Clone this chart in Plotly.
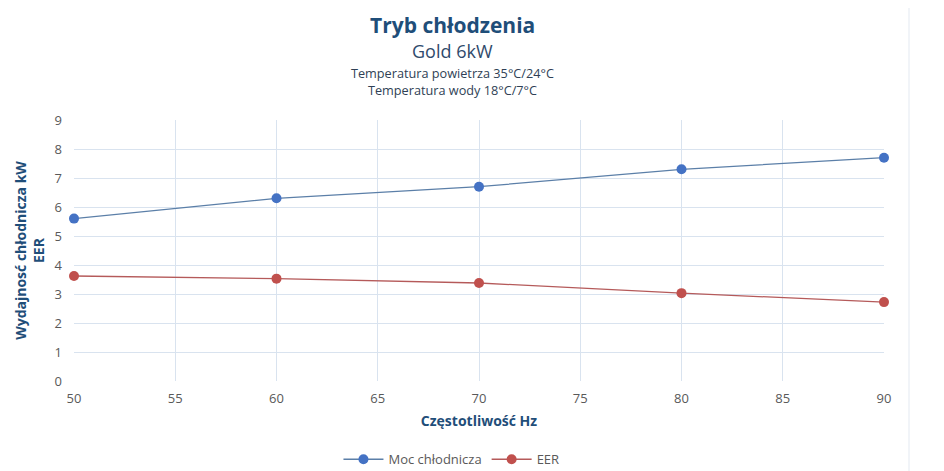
import plotly.graph_objects as go

FREQ = [50, 60, 70, 80, 90]
MOC = [5.6, 6.3, 6.7, 7.3, 7.7]
EER = [3.62, 3.53, 3.38, 3.03, 2.72]

BLUE = "#4472C4"
RED = "#C0504D"
NAVY = "#1F4E79"
TICK = "#595959"
GRID = "#D9E3EF"
FONT = "Open Sans, Lato, sans-serif"

fig = go.Figure()
fig.add_trace(go.Scatter(
    x=FREQ, y=MOC, name="Moc chłodnicza", mode="lines+markers",
    line=dict(color="#5B7FA8", width=1.3),
    marker=dict(color=BLUE, size=10), cliponaxis=False,
))
fig.add_trace(go.Scatter(
    x=FREQ, y=EER, name="EER", mode="lines+markers",
    line=dict(color="#B55A5A", width=1.3),
    marker=dict(color=RED, size=10), cliponaxis=False,
))

# page body has an 8px margin, so shift everything up/left by 8
fig.update_layout(
    width=944, height=471,
    paper_bgcolor="#FFFFFF", plot_bgcolor="#FFFFFF",
    font=dict(family=FONT, color=TICK, size=13),
    margin=dict(l=66, r=68, t=112, b=98, autoexpand=False),
    showlegend=True,
    legend=dict(orientation="h", x=0.466, xanchor="center", y=-0.3, yanchor="middle",
                font=dict(size=13, color=TICK), itemwidth=40),
)
fig.update_xaxes(
    range=[50, 90], dtick=5, showgrid=True, gridcolor=GRID, gridwidth=1,
    zeroline=False, showline=False, ticks="", ticklabelstandoff=8,
    title=dict(text="<b>Częstotliwość Hz</b>", font=dict(size=14, color=NAVY), standoff=10),
)
fig.update_yaxes(
    range=[0, 9], dtick=1, showgrid=True, gridcolor=GRID, gridwidth=1,
    zeroline=False, showline=False, ticks="", ticklabelstandoff=11,
    title=dict(text="<b>Wydajnosć chłodnicza kW<br>EER</b>", font=dict(size=14, color=NAVY), standoff=6),
)

# chart frame edge on the right
fig.add_shape(type="line", xref="paper", yref="paper",
              x0=(909 - 74) / 810, x1=(909 - 74) / 810, y0=-2, y1=2,
              line=dict(color="#E3E9F1", width=1))

titles = [
    ("<b>Tryb chłodzenia</b>", 25, 21, NAVY),
    ("Gold 6kW", 51, 18, "#2F4A6B"),
    ("Temperatura powietrza 35°C/24°C", 73, 12.7, "#2F3F55"),
    ("Temperatura wody 18°C/7°C", 90, 12.7, "#2F3F55"),
]
for text, py, size, color in titles:
    fig.add_annotation(
        text=text, xref="paper", yref="paper",
        x=(452 - 74) / 810, y=(381 - py) / 261,
        xanchor="center", yanchor="middle", showarrow=False,
        font=dict(family=FONT, size=size, color=color),
    )

fig.write_html("out.html")
